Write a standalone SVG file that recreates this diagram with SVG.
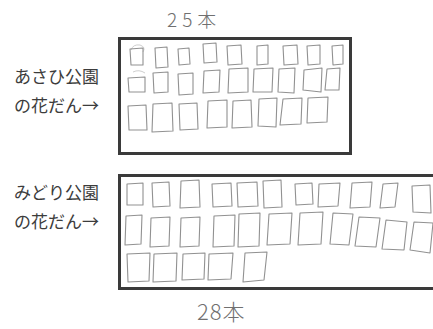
<svg xmlns="http://www.w3.org/2000/svg" width="433" height="329" viewBox="0 0 433 329">
<style>
.bg{fill:#fff}
.frame{fill:none;stroke:#3a3a3a;stroke-width:3}
.sq{fill:none;stroke:#919191;stroke-width:1.1;stroke-linejoin:round}
.lbl{font-family:"Noto Sans CJK JP","Noto Sans",sans-serif;font-size:17px;fill:#3c3c3c}
.cnt{font-family:"Noto Sans CJK JP","Noto Sans",sans-serif;fill:#707070;font-weight:300}
.scr{fill:none;stroke:#cfcfcf;stroke-width:1}
</style>
<rect class="bg" width="433" height="329"/>
<g id="count-top"><text class="cnt" x="167" y="27" font-size="19" letter-spacing="5">25本</text></g>
<g id="label-asahi">
<text class="lbl" x="14" y="83">あさひ公園</text>
<text class="lbl" x="14" y="112">の花だん→</text>
</g>
<g id="bed-asahi">
<rect class="frame" x="119.5" y="38.5" width="231" height="115"/>
<path class="scr" d="M131,50 q2,-6 9,-5 q6,2 3,7 M133,72 q6,-3 12,1"/>
<polygon class="sq" points="130,49 143,48 143,65 131,65"/>
<polygon class="sq" points="155,48 167,47 168,67 156,68"/>
<polygon class="sq" points="178,49 189,48 190,64 179,65"/>
<polygon class="sq" points="203,44 216,43 217,62 204,63"/>
<polygon class="sq" points="227,46 241,45 242,64 228,65"/>
<polygon class="sq" points="257,46 268,45 268,64 257,65"/>
<polygon class="sq" points="283,46 297,45 298,64 284,65"/>
<polygon class="sq" points="307,46 320,45 320,64 308,65"/>
<polygon class="sq" points="332,46 343,45 343,64 333,65"/>
<polygon class="sq" points="128,78 145,77 145,92 129,92"/>
<polygon class="sq" points="153,73 168,72 168,92 154,93"/>
<polygon class="sq" points="178,74 193,73 193,94 179,95"/>
<polygon class="sq" points="204,71 220,70 219,92 203,93"/>
<polygon class="sq" points="229,69 248,68 248,92 228,93"/>
<polygon class="sq" points="254,69 273,68 272,92 253,92"/>
<polygon class="sq" points="279,69 295,68 294,93 278,92"/>
<polygon class="sq" points="304,70 322,68 321,92 303,90"/>
<polygon class="sq" points="327,69 340,68 339,90 325,90"/>
<polygon class="sq" points="128,106 146,105 147,130 129,130"/>
<polygon class="sq" points="153,104 172,103 173,131 152,132"/>
<polygon class="sq" points="179,104 197,103 198,129 180,130"/>
<polygon class="sq" points="208,101 227,100 227,127 207,128"/>
<polygon class="sq" points="233,101 251,100 252,127 232,128"/>
<polygon class="sq" points="259,99 277,98 276,127 258,126"/>
<polygon class="sq" points="283,99 302,98 301,124 280,125"/>
<polygon class="sq" points="308,98 328,97 327,122 307,123"/>
</g>
<g id="label-midori">
<text class="lbl" x="14" y="199">みどり公園</text>
<text class="lbl" x="14" y="228">の花だん→</text>
</g>
<g id="bed-midori">
<rect class="frame" x="119.5" y="175.5" width="330" height="113"/>
<polygon class="sq" points="127,184 143,183 143,205 127,205"/>
<polygon class="sq" points="152,183 169,182 170,206 153,207"/>
<polygon class="sq" points="181,181 199,180 200,207 180,208"/>
<polygon class="sq" points="212,184 231,183 232,206 213,207"/>
<polygon class="sq" points="237,183 257,182 258,206 238,207"/>
<polygon class="sq" points="263,181 281,180 282,207 264,208"/>
<polygon class="sq" points="295,184 312,183 313,204 296,205"/>
<polygon class="sq" points="319,184 340,183 338,206 318,207"/>
<polygon class="sq" points="352,183 372,182 370,207 350,208"/>
<polygon class="sq" points="383,184 398,183 395,207 380,208"/>
<polygon class="sq" points="412,186 430,185 431,213 413,212"/>
<polygon class="sq" points="126,216 142,215 141,244 125,245"/>
<polygon class="sq" points="151,218 170,217 169,246 150,247"/>
<polygon class="sq" points="181,218 200,217 199,246 180,247"/>
<polygon class="sq" points="214,216 235,215 234,246 213,247"/>
<polygon class="sq" points="239,214 260,213 259,246 238,247"/>
<polygon class="sq" points="269,214 292,213 290,244 267,245"/>
<polygon class="sq" points="300,213 323,212 321,244 298,245"/>
<polygon class="sq" points="333,213 353,214 349,245 330,244"/>
<polygon class="sq" points="359,217 380,218 376,247 355,246"/>
<polygon class="sq" points="386,220 407,222 404,250 382,249"/>
<polygon class="sq" points="414,222 433,223 430,253 410,250"/>
<polygon class="sq" points="127,254 150,253 149,281 128,282"/>
<polygon class="sq" points="154,254 177,253 176,281 153,282"/>
<polygon class="sq" points="183,254 205,253 204,279 182,280"/>
<polygon class="sq" points="209,254 233,253 231,279 208,280"/>
<polygon class="sq" points="245,253 267,252 264,280 243,282"/>
</g>
<g id="count-bottom"><text class="cnt" x="197" y="320" font-size="22" letter-spacing="1">28本</text></g>
</svg>
